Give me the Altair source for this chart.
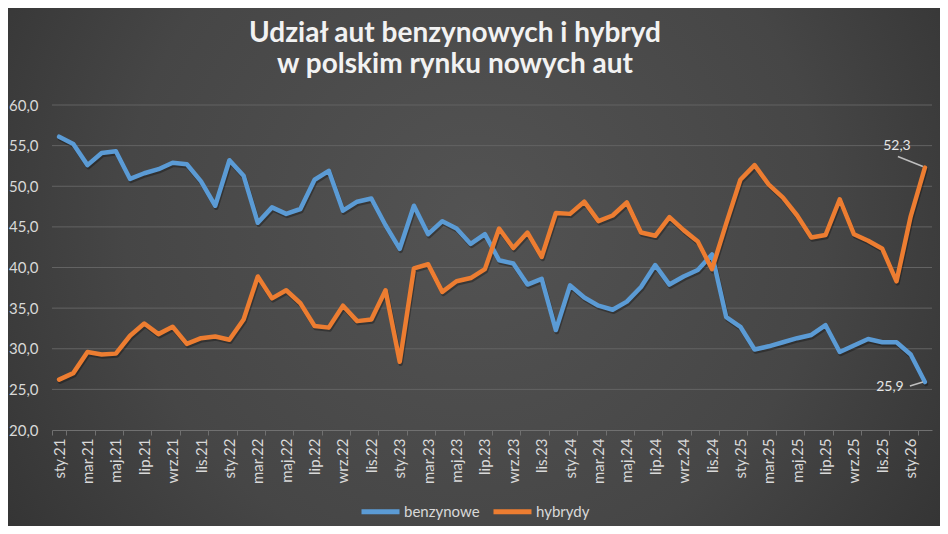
import altair as alt
import pandas as pd

# ---- data -------------------------------------------------------------
month_abbr = ["sty", "lut", "mar", "kwi", "maj", "cze",
              "lip", "sie", "wrz", "paź", "lis", "gru"]
years = [21, 22, 23, 24, 25, 26]
months = [f"{m}.{y}" for y in years for m in month_abbr][:62]   # sty.21 .. lut.26

benzynowe = [56.1, 55.2, 52.6, 54.1, 54.3, 50.9, 51.6, 52.1, 52.9, 52.7,
             50.6, 47.6, 53.2, 51.3, 45.5, 47.4, 46.6, 47.2, 50.8, 51.9,
             47.0, 48.1, 48.5, 45.2, 42.3, 47.6, 44.1, 45.7, 44.8, 42.9,
             44.1, 40.9, 40.5, 37.9, 38.6, 32.3, 37.8, 36.3, 35.3, 34.8,
             35.8, 37.6, 40.3, 37.9, 38.9, 39.7, 41.6, 33.9, 32.7, 29.9,
             30.3, 30.8, 31.3, 31.7, 32.9, 29.6, 30.4, 31.2, 30.8, 30.8,
             29.3, 25.9]

hybrydy = [26.2, 27.0, 29.6, 29.3, 29.4, 31.6, 33.1, 31.8, 32.7, 30.6,
           31.3, 31.5, 31.1, 33.6, 38.9, 36.2, 37.2, 35.6, 32.8, 32.6,
           35.3, 33.4, 33.6, 37.2, 28.4, 39.9, 40.4, 37.0, 38.3, 38.7,
           39.8, 44.8, 42.4, 44.3, 41.3, 46.7, 46.6, 48.1, 45.7, 46.4,
           48.0, 44.3, 43.9, 46.2, 44.6, 43.2, 39.8, 45.4, 50.8, 52.6,
           50.2, 48.6, 46.4, 43.7, 44.0, 48.4, 44.1, 43.3, 42.3, 38.3,
           46.3, 52.3]

series_names = ["benzynowe", "hybrydy"]
series_colors = ["#5B9BD5", "#ED7D31"]
y_ticks = [20, 25, 30, 35, 40, 45, 50, 55, 60]
x_label_values = months[::2]

# ---- tables -----------------------------------------------------------
df = pd.DataFrame({
    "m": months * 2,
    "v": benzynowe + hybrydy,
    "s": ["benzynowe"] * len(months) + ["hybrydy"] * len(months),
})

def fmt(v):
    return f"{v:.1f}".replace(".", ",")

lab_h = pd.DataFrame({"m": [months[-1]], "v": [hybrydy[-1]], "t": [fmt(hybrydy[-1])]})
lab_b = pd.DataFrame({"m": [months[-1]], "v": [benzynowe[-1]], "t": [fmt(benzynowe[-1])]})
grid_df = pd.DataFrame({"v": y_ticks[1:]})

W, H = 880, 325
PL, PT, PR, PB = 44, 97, 8, 96
FONT = "Lato"

x_enc = alt.X("m:N", sort=months, bandPosition=0.5,
              scale=alt.Scale(type="band", paddingInner=0, paddingOuter=0),
              axis=alt.Axis(title=None, values=x_label_values, labelAngle=270,
                            tickBand="extent", ticks=True, tickSize=5,
                            tickColor="#707070", domainColor="#707070",
                            domainWidth=1, labelColor="#d9d9d9",
                            labelFontSize=15, labelFont=FONT, labelPadding=3,
                            grid=False, zindex=1))
y_scale = alt.Scale(domain=[20, 60], nice=False, zero=False)
y_enc = alt.Y("v:Q", scale=y_scale,
              axis=alt.Axis(title=None, values=y_ticks,
                            labelExpr="replace(format(datum.value, '.1f'), '.', ',')",
                            grid=False, domain=False, ticks=False,
                            labelColor="#d9d9d9", labelFontSize=15,
                            labelFont=FONT, labelPadding=14, zindex=1))

# background (radial vignette)
bg = alt.Chart(pd.DataFrame({"a": [0]})).mark_rect(
    fill=alt.Gradient(gradient="radial",
                      stops=[alt.GradientStop(color="#535353", offset=0),
                             alt.GradientStop(color="#464646", offset=0.5),
                             alt.GradientStop(color="#292929", offset=1)],
                      x1=0.5, y1=0.45, x2=0.5, y2=0.45, r1=0, r2=0.75),
    stroke=None
).encode(x=alt.value(-PL), x2=alt.value(W + PR), y=alt.value(-PT), y2=alt.value(H + PB))

grid = alt.Chart(grid_df).mark_rule(color="#636363", strokeWidth=1).encode(
    y=alt.Y("v:Q", scale=y_scale), x=alt.value(0), x2=alt.value(W))

base = alt.Chart(df)

shadow = base.mark_line(color="#000000", opacity=0.3, strokeWidth=4.5,
                        strokeJoin="round", strokeCap="round", yOffset=2, xOffset=1).encode(
    x=x_enc, y=y_enc, detail="s:N")

lines = base.mark_line(strokeWidth=4.5, strokeJoin="round", strokeCap="round").encode(
    x=x_enc, y=y_enc,
    color=alt.Color("s:N", scale=alt.Scale(domain=series_names, range=series_colors),
                    legend=alt.Legend(title=None, orient="none", direction="horizontal",
                                      legendX=307, legendY=385,
                                      symbolType="stroke", symbolSize=1444,
                                      symbolStrokeWidth=5, labelFontSize=15,
                                      labelFont=FONT, labelColor="#d9d9d9",
                                      labelOffset=2, columnPadding=3, zindex=1)))

txt_h = alt.Chart(lab_h).mark_text(color="#e6e6e6", fontSize=14, font=FONT,
                                   dx=-28, dy=-22, align="center", baseline="middle").encode(
    x=x_enc, y=y_enc, text="t:N")
txt_b = alt.Chart(lab_b).mark_text(color="#e6e6e6", fontSize=14, font=FONT,
                                   dx=-35, dy=5, align="center", baseline="middle").encode(
    x=x_enc, y=y_enc, text="t:N")

lead_h = alt.Chart(lab_h).mark_rule(color="#bfbfbf", strokeWidth=1.5,
                                    xOffset=-27, yOffset=-11, x2Offset=-2, y2Offset=-1).encode(
    x=x_enc, y=y_enc, x2="m:N", y2="v:Q")
lead_b = alt.Chart(lab_b).mark_rule(color="#bfbfbf", strokeWidth=1.5,
                                    xOffset=-15, yOffset=4, x2Offset=-2, y2Offset=0).encode(
    x=x_enc, y=y_enc, x2="m:N", y2="v:Q")

chart = alt.layer(bg, grid, shadow, lines, lead_h, lead_b, txt_h, txt_b).properties(
    width=W, height=H,
    autosize=alt.AutoSizeParams(type="none"),
    padding={"left": PL, "top": PT, "right": PR, "bottom": PB},
    background="#2c2c2c",
    title=alt.TitleParams(text=["Udział aut benzynowych i hybryd",
                                "w polskim rynku nowych aut"],
                          fontSize=28, font=FONT, fontWeight="bold",
                          color="#f2f2f2", anchor="middle", dx=-37,
                          offset=25, dy=124, lineHeight=31, baseline="bottom", zindex=1),
).configure_view(stroke=None)

chart.save("out.html", embed_options={"renderer": "svg", "actions": False})
